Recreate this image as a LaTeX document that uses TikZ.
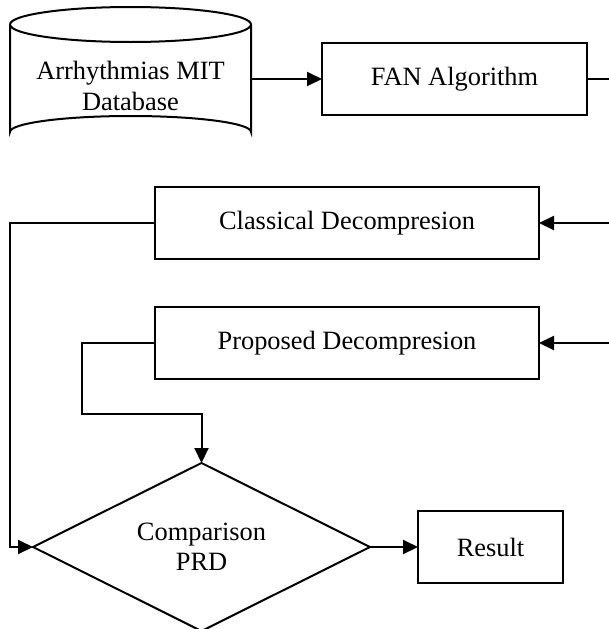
\documentclass[tikz,border=0pt]{standalone}
\usepackage{fontspec}
\setmainfont{Liberation Serif}
\usetikzlibrary{arrows.meta,shapes.geometric}
\tikzset{
  box/.style={draw,rectangle,line width=2pt,inner sep=0pt,outer sep=0pt,align=center},
  arr/.style={line width=2pt,-{Triangle[length=15pt,width=14pt]}},
  ln/.style={line width=2pt},
}
\begin{document}
\begin{tikzpicture}[x=1pt,y=-1pt,font=\fontsize{26.4}{30.5}\selectfont]
\useasboundingbox (0,0) rectangle (609,629);
% cylinder
\draw[ln] (10,24.5) -- (10,132) arc[start angle=180,end angle=360,x radius=120.5,y radius=16] -- (251,24.5);
\draw[ln] (130.5,24.5) ellipse[x radius=120.5,y radius=17.5];
\node[inner sep=0pt,outer sep=0pt,minimum width=241,align=center] (db) at (130.5,86) {Arrhythmias MIT\\Database};
\node[box,minimum width=265,minimum height=72] (fan) at (454.5,79) {FAN Algorithm};
\node[box,minimum width=384,minimum height=72] (cls) at (347,223) {Classical Decompresion};
\node[box,minimum width=384,minimum height=72] (prop) at (347,343) {Proposed Decompresion};
\node[draw,diamond,line width=2pt,aspect=2,inner sep=0pt,outer sep=0pt,minimum width=337,minimum height=168,align=center] (cmp) at (201.5,547) {Comparison\\PRD};
\node[box,minimum width=145,minimum height=72] (res) at (490.5,547) {Result};
\coordinate (r1) at (609,79);
\coordinate (r2) at (609,223);
\coordinate (r3) at (609,343);
\draw[arr] (db.east |- fan.west) -- (fan.west);
\draw[ln] (fan.east) -- (r1);
\draw[arr] (r2) -- (cls.east);
\draw[arr] (r3) -- (prop.east);
\draw[arr] (cls.west) -- ++(-145,0) |- (cmp.west);
\draw[arr] (prop.west) -| ++(-73,71) -| (cmp.north);
\draw[arr] (cmp.east) -- (res.west);
\end{tikzpicture}
\end{document}
